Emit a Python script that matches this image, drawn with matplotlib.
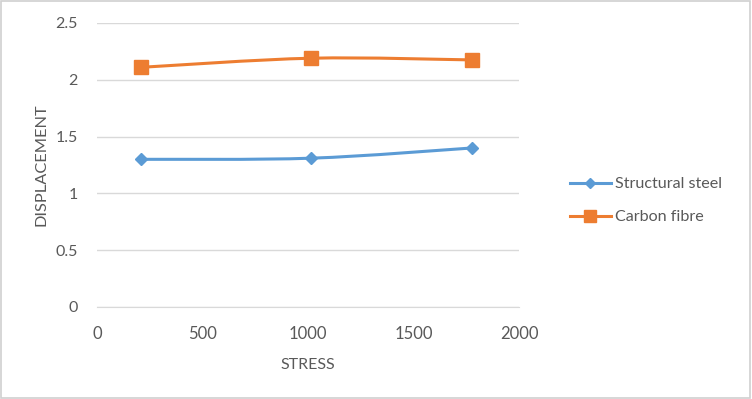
import numpy as np
import matplotlib
matplotlib.use('Agg')
import matplotlib.pyplot as plt
from matplotlib.path import Path
import matplotlib.patches as patches

# data
stress = [210, 1015, 1778]
steel = [1.30, 1.31, 1.40]
carbon = [2.11, 2.19, 2.175]
series_names = ['Structural steel', 'Carbon fibre']
y_ticks = [0, 0.5, 1, 1.5, 2, 2.5]
x_ticks = [0, 500, 1000, 1500, 2000]

blue = '#5B9BD5'
orange = '#ED7D31'
grid_col = '#D9D9D9'
text_col = '#595959'

plt.rcParams['font.family'] = ['Lato', 'DejaVu Sans']


def smooth_path(x, y):
    # excel like smoothed line: cubic bezier with catmull-rom control points
    P = np.column_stack([x, y]).astype(float)
    n = len(P)
    verts = [P[0]]
    codes = [Path.MOVETO]
    for i in range(n - 1):
        p_prev = P[i - 1] if i > 0 else P[i]
        p_next = P[i + 2] if i + 2 < n else P[i + 1]
        c1 = P[i] + (P[i + 1] - p_prev) / 6.
        c2 = P[i + 1] - (p_next - P[i]) / 6.
        verts += [c1, c2, P[i + 1]]
        codes += [Path.CURVE4] * 3
    return Path(verts, codes)


fig = plt.figure(figsize=(7.52, 3.99), dpi=100)
fig.patch.set_facecolor('white')
fig.add_artist(patches.Rectangle((0.001, 0.002), 0.997, 0.995, transform=fig.transFigure,
                                 fill=False, edgecolor='#D0D0D0', lw=1.2))

ax = fig.add_axes([97/752, 1 - 307/399, (519-97)/752, (307-23)/399])

for ys, col, mk, ms, name in [(steel, blue, 'D', 6.2, series_names[0]),
                              (carbon, orange, 's', 10, series_names[1])]:
    ax.add_patch(patches.PathPatch(smooth_path(stress, ys), fill=False,
                                   edgecolor=col, lw=2.2, zorder=3))
    ax.plot(stress, ys, linestyle='none', marker=mk, ms=ms, color=col,
            mec=col, zorder=4)
    # legend proxy
    ax.plot([], [], color=col, lw=2.2, marker=mk, ms=ms * 0.85, label=name)

ax.set_xlim(0, 2000)
ax.set_ylim(0, 2.5)
ax.set_xticks(x_ticks)
ax.set_yticks(y_ticks)
ax.set_xticklabels([str(v) for v in x_ticks])
ax.set_yticklabels(['0', '0.5', '1', '1.5', '2', '2.5'])
ax.grid(axis='y', color=grid_col, lw=1)
ax.set_axisbelow(True)
for s in ['left', 'right', 'top']:
    ax.spines[s].set_visible(False)
ax.spines['bottom'].set_color(grid_col)
ax.tick_params(length=0, colors=text_col, labelsize=11.5)
ax.tick_params(axis='x', pad=14, labelsize=12)
ax.tick_params(axis='y', pad=14)

ax.set_xlabel('STRESS', color=text_col, fontsize=11.5, labelpad=11)
ax.set_ylabel('DISPLACEMENT', color=text_col, fontsize=11.8, labelpad=5)

ax.legend(loc='center left', bbox_to_anchor=(555/752, 0.497), bbox_transform=fig.transFigure,
          frameon=False, fontsize=11.6, labelcolor=text_col, handlelength=2.6,
          labelspacing=1.15, handletextpad=0.2)

fig.savefig('out.png', dpi=100, facecolor='white')
